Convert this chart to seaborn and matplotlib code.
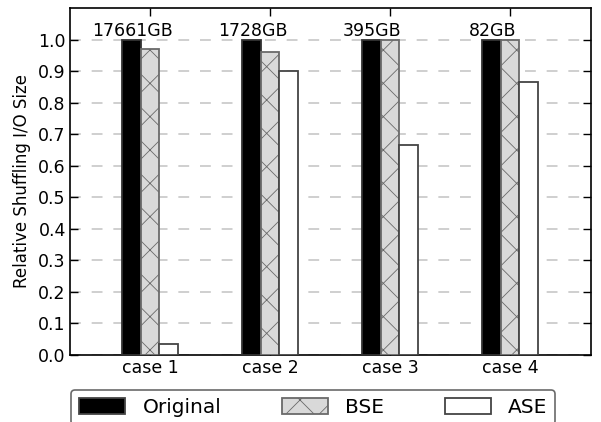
import matplotlib
matplotlib.use("Agg")
import matplotlib.pyplot as plt
import seaborn as sns
import pandas as pd

cases = ["case 1", "case 2", "case 3", "case 4"]
methods = ["Original", "BSE", "ASE"]
original = [1.0, 1.0, 1.0, 1.0]
bse = [0.971, 0.961, 1.0, 1.0]
ase = [0.035, 0.90, 0.667, 0.865]
size_labels = ["17661GB", "1728GB", "395GB", "82GB"]
yticks = [0.0, 0.1, 0.2, 0.3, 0.4, 0.5, 0.6, 0.7, 0.8, 0.9, 1.0]

sns.set_style("white")
plt.rcParams["font.family"] = ["DejaVu Sans"]
plt.rcParams["hatch.linewidth"] = 0.6
for k in ["text.color", "axes.labelcolor", "xtick.color", "ytick.color"]:
    plt.rcParams[k] = "black"

df = pd.DataFrame({
    "case": cases * 3,
    "method": [m for m in methods for _ in cases],
    "value": original + bse + ase,
})

fig = plt.figure(figsize=(6.01, 4.22), dpi=100)
ax = fig.add_axes([70 / 601, 1 - 355 / 422, 521 / 601, 347 / 422])

palette = {"Original": "black", "BSE": "#d9d9d9", "ASE": "white"}
width = 0.47
sns.barplot(data=df, x="case", y="value", hue="method", hue_order=methods,
            order=cases, palette=palette, width=width, dodge=True,
            edgecolor="#444444", linewidth=1.3, saturation=1, ax=ax,
            legend=True, zorder=3)

for cont, m in zip(ax.containers, methods):
    for p in cont.patches:
        if m == "BSE":
            p.set_hatch("x")
            p.set_edgecolor("#6a6a6a")
        elif m == "Original":
            p.set_edgecolor("#333333")

ax.set_ylim(0, 1.1)
ax.set_xlim(-0.667, 3.675)
ax.set_yticks(yticks)
ax.set_yticklabels([f"{t:.1f}" for t in yticks])
ax.tick_params(axis="both", direction="in", length=6, width=1, top=True,
               right=True, bottom=True, left=True, labelsize=12.5, pad=3,
               colors="black")
ax.grid(axis="y", linestyle=(0, (6, 6)), color="#cccccc", linewidth=1.3, zorder=0)
ax.set_axisbelow(True)
for s in ax.spines.values():
    s.set_color("black")
    s.set_linewidth(1.2)
ax.set_xlabel("")
ax.set_ylabel("Relative Shuffling I/O Size", fontsize=12, labelpad=5, color="black")

bw = width / 3
for i, lab in enumerate(size_labels):
    ax.text(i - bw + 0.01, 1.0, lab, ha="center", va="bottom", fontsize=12.5,
            color="black")

handles, labels = ax.get_legend_handles_labels()
ax.get_legend().remove()
for h, m in zip(handles, labels):
    if m == "BSE":
        h.set_hatch("x")
        h.set_edgecolor("#6a6a6a")
leg = fig.legend(handles, labels, loc="upper left", ncol=3,
                 bbox_to_anchor=(71 / 601, 1 - 390 / 422), borderaxespad=0,
                 fontsize=14.5, handlelength=2.3, handleheight=0.8,
                 handletextpad=0.85, columnspacing=3.0, frameon=True,
                 fancybox=True, borderpad=0.4)
leg.get_frame().set_edgecolor("#444444")
leg.get_frame().set_linewidth(1.2)
for t in leg.get_texts():
    t.set_color("black")

fig.savefig("out.png", dpi=100)
